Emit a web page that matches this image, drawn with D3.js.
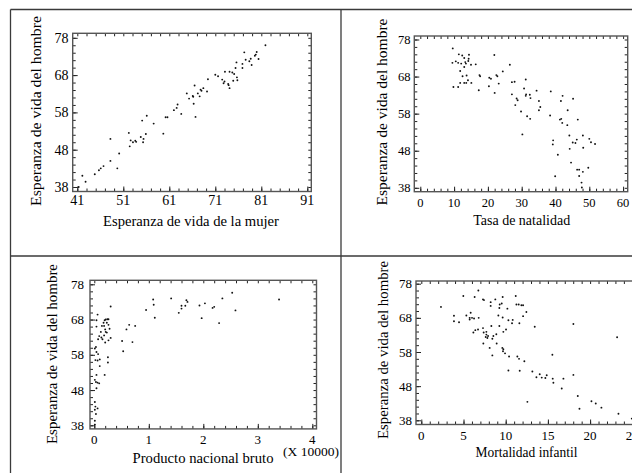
<!DOCTYPE html>
<html><head><meta charset="utf-8">
<script src="https://cdn.jsdelivr.net/npm/d3@7"></script>
<style>
body{margin:0;background:#fff}
svg{display:block}
text{font-family:"Liberation Serif","Times New Roman",serif;fill:#000}
</style>
</head><body>
<svg id="c" width="632" height="473"></svg>
<script>
// ---------- DATA ----------
const yTickLabels = [38, 48, 58, 68, 78];
const yTitle = "Esperanza de vida del hombre";

// Panel 1: female vs male life expectancy
const p1Title = "Esperanza de vida de la mujer";
const p1XTicks = [41, 51, 61, 71, 81, 91];
const p1Female = [81.9,77.3,80.0,79.8,79.6,78.7,77.6,78.4,80.4,75.6,76.9,78.9,75.4,76.9,73.1,74.1,74.7,75.1,71.0,71.6,75.7,72.5,73.0,74.9,75.8,73.8,73.9,74.1,69.4,72.8,66.5,68.4,69.2,67.8,68.0,67.2,64.8,66.1,66.2,65.3,67.6,66.3,62.8,62.6,62.0,63.6,66.7,60.2,60.6,57.6,56.1,55.1,59.7,52.2,55.9,48.2,52.6,53.1,53.6,53.8,54.8,55.4,55.3,52.4,50.1,48.2,49.7,46.7,46.1,45.7,44.8,42.1,42.8,41.3];
const p1Male   = [76.0,74.1,74.2,73.5,73.2,72.4,72.1,71.7,72.3,71.4,71.0,70.7,69.9,69.9,68.9,68.9,68.7,68.3,68.1,67.7,67.4,66.8,66.3,66.5,66.6,65.6,65.3,64.5,66.9,65.8,65.2,64.5,63.6,64.1,63.8,63.1,63.1,62.4,62.2,61.7,62.3,60.3,60.1,59.2,58.6,57.6,56.8,56.7,56.7,55.0,57.1,55.8,52.3,52.5,52.2,50.9,50.5,50.0,50.4,50.1,51.4,50.9,50.0,48.9,47.0,45.0,43.0,43.6,43.0,42.5,41.4,41.0,39.4,38.0];

// Panel 2: birth rate vs male life expectancy
const p2Title = "Tasa de natalidad";
const p2XTicks = [0, 10, 20, 30, 40, 50, 60];
const p2Birth = [9.6,9.5,10.5,11.4,12.4,13.0,14.4,14.3,14.2,11.2,12.1,13.3,13.5,16.4,15.0,13.0,11.8,12.5,13.7,9.8,11.2,11.8,13.0,13.6,14.1,15.1,17.5,17.7,17.3,20.4,20.9,21.9,22.0,20.3,22.5,22.8,23.2,24.4,26.5,27.1,27.9,27.1,28.5,28.1,28.8,29.8,30.7,31.2,31.3,31.2,32.4,32.6,31.6,32.5,30.2,34.4,35.1,35.5,35.1,38.6,38.4,42.1,41.6,45.2,43.6,41.7,41.3,42.0,43.5,46.6,39.3,39.2,44.1,45.1,45.9,46.3,48.1,50.0,50.5,51.7,48.2,44.2,40.7,44.6,46.4,47.0,48.1,49.7,47.0,39.9,47.7,47.8];
const p2Male  = [75.6,71.7,72.1,74.0,73.7,73.0,73.9,72.8,72.2,71.7,71.5,71.9,71.5,71.3,71.2,70.6,69.5,68.1,68.3,65.2,65.2,66.3,66.3,66.3,67.0,66.3,68.4,68.1,64.3,67.7,67.4,73.8,63.6,65.4,68.4,68.1,66.1,69.4,71.2,66.5,66.6,63.2,62.1,60.3,61.6,58.6,64.8,67.2,63.2,62.8,63.1,62.2,57.3,56.6,52.4,64.2,61.4,59.8,58.9,64.0,57.5,62.8,61.4,62.0,58.9,56.6,56.4,55.5,54.9,56.4,50.8,49.7,52.1,50.2,50.1,51.0,52.1,51.2,50.3,49.8,48.8,48.5,46.9,44.8,42.9,42.9,42.3,43.4,41.2,41.1,39.4,38.1];

// Panel 3: GNP (x 10000) vs male life expectancy
const p3Title = "Producto nacional bruto";
const p3Mult = "(X 10000)";
const p3XTicks = [0, 1, 2, 3, 4];
const p3Gnp  = [2.53,2.35,2.59,3.39,1.69,1.71,1.41,1.08,1.09,0.95,1.11,1.60,1.60,1.67,1.55,1.93,2.03,2.17,2.20,1.97,2.29,0.30,0.06,0.04,0.04,0.17,0.19,0.21,0.24,0.26,0.23,0.26,0.14,0.18,0.28,0.21,0.23,0.12,0.09,0.13,0.07,0.15,0.20,0.26,0.30,0.59,0.64,0.75,0.51,0.70,0.53,0.03,0.01,0.04,0.07,0.02,0.06,0.10,0.25,0.25,0.10,0.19,0.04,0.01,0.03,0.06,0.09,0.04,0.01,0.02,0.06,0.01,0.03,0.01,0.01,0.20,0.18];
const p3Male = [75.6,74.0,70.6,73.7,73.5,73.0,74.0,73.7,72.2,70.7,68.5,71.9,71.1,71.9,69.9,72.0,72.6,71.3,71.6,68.4,67.0,71.7,69.4,67.8,66.0,67.1,67.8,68.0,68.1,68.1,67.1,66.5,66.2,66.2,65.4,64.5,64.3,64.5,63.3,62.9,62.4,62.4,61.5,62.1,62.8,65.2,66.5,66.2,61.9,61.6,59.0,60.2,59.8,58.8,58.2,56.5,56.4,56.7,57.3,55.8,54.8,52.3,52.3,50.9,50.3,50.1,49.9,48.5,44.6,43.3,42.8,42.4,41.2,39.3,38.2,65.2,63.5];

// Panel 4: infant mortality vs male life expectancy
const p4Title = "Mortalidad infantil";
const p4XTicks = [0, 5, 10, 15, 20, 25, 30];
const p4Mort = [2.33,3.87,3.87,4.47,4.98,6.32,6.76,5.34,5.85,5.73,6.01,5.73,6.25,6.80,6.17,6.40,6.72,7.31,7.43,7.31,7.39,7.71,7.71,7.91,7.63,7.83,7.35,8.10,8.42,8.22,8.22,8.77,8.30,8.54,8.42,8.89,9.29,9.25,9.53,9.64,9.13,9.25,9.64,9.72,9.60,9.72,9.68,9.92,8.93,10.04,10.20,10.40,10.32,10.32,10.83,10.75,11.19,11.27,11.54,11.86,12.06,11.62,12.06,12.45,11.38,11.58,12.21,11.66,13.16,13.44,12.57,13.64,14.03,14.27,14.70,14.86,15.53,15.57,15.65,16.84,16.64,18.02,18.02,18.54,18.74,20.16,20.67,21.34,23.20,23.36,24.94];
const p4Male = [71.2,68.6,67.0,66.7,74.4,74.1,76.0,68.7,69.5,68.0,68.0,67.5,67.8,68.0,63.7,64.4,64.6,73.4,73.2,65.0,63.7,63.9,63.1,62.7,62.4,62.1,60.5,59.2,57.0,72.6,71.5,73.4,65.6,62.7,61.9,63.2,71.9,70.9,72.2,74.1,68.7,65.6,68.1,63.9,59.2,58.8,58.2,57.6,60.5,64.6,70.7,56.7,52.6,67.3,67.4,66.4,74.4,71.9,71.9,71.7,71.7,66.4,68.5,69.7,56.7,56.0,55.3,52.5,52.3,65.4,43.4,50.6,51.5,50.5,50.4,51.2,57.2,50.2,49.0,50.2,47.3,51.3,66.2,45.1,41.4,43.6,42.9,41.7,62.3,39.9,38.5];

// ---------- DRAW ----------
const svg = d3.select("#c");

// table grid lines
const grid = svg.append("g").attr("stroke", "#3a3a3a").attr("stroke-width", 1.3);
grid.append("line").attr("x1", 10.5).attr("x2", 632).attr("y1", 9.5).attr("y2", 9.5);
grid.append("line").attr("x1", 10.5).attr("x2", 10.5).attr("y1", 9.5).attr("y2", 473);
grid.append("line").attr("x1", 341).attr("x2", 341).attr("y1", 9.5).attr("y2", 473);
grid.append("line").attr("x1", 10.5).attr("x2", 632).attr("y1", 256).attr("y2", 256);

function panel(o) {
  const g = svg.append("g");
  const x = d3.scaleLinear().domain(o.xDomain).range(o.xRange);
  const y = d3.scaleLinear().domain([38, 78]).range(o.yRange);
  const f = o.frame; // [x0, y0, x1, y1]

  // inward ticks on all four sides
  const tickStyle = sel => { sel.select(".domain").remove(); sel.selectAll("line").attr("stroke", "#222").attr("stroke-width", 1); sel.selectAll("text").remove(); };
  const minorX = d3.range(o.xDomain[0], o.xDomain[1] + 1e-9, o.xMinor);
  const minorY = d3.range(38, 78 + 1e-9, 2);
  g.append("g").attr("transform", `translate(0,${f[3]})`).call(d3.axisBottom(x).tickValues(minorX).tickSize(-3)).call(tickStyle);
  g.append("g").attr("transform", `translate(0,${f[1]})`).call(d3.axisTop(x).tickValues(minorX).tickSize(-3)).call(tickStyle);
  g.append("g").attr("transform", `translate(0,${f[3]})`).call(d3.axisBottom(x).tickValues(o.xTicks).tickSize(-5)).call(tickStyle);
  g.append("g").attr("transform", `translate(${f[0]},0)`).call(d3.axisLeft(y).tickValues(minorY).tickSize(-3)).call(tickStyle);
  g.append("g").attr("transform", `translate(${f[2]},0)`).call(d3.axisRight(y).tickValues(minorY).tickSize(-3)).call(tickStyle);
  g.append("g").attr("transform", `translate(${f[0]},0)`).call(d3.axisLeft(y).tickValues(yTickLabels).tickSize(-5)).call(tickStyle);

  // frame
  g.append("rect").attr("x", f[0]).attr("y", f[1]).attr("width", f[2] - f[0]).attr("height", f[3] - f[1])
    .attr("fill", "none").attr("stroke", "#555").attr("stroke-width", 1.4);

  // tick labels
  g.selectAll(null).data(yTickLabels).join("text")
    .attr("x", o.yLabelX).attr("y", d => y(d)).attr("dy", "0.35em")
    .attr("text-anchor", "end").style("font-size", o.tickFont + "px").text(d => d);
  g.selectAll(null).data(o.xTicks).join("text")
    .attr("x", d => x(d)).attr("y", o.xLabelY)
    .attr("text-anchor", "middle").style("font-size", o.tickFont + "px").text(d => d);

  // axis titles
  g.append("text").attr("x", o.xTitle[0]).attr("y", o.xTitle[1]).attr("text-anchor", "middle")
    .attr("textLength", o.xTitle[2]).attr("lengthAdjust", "spacingAndGlyphs")
    .style("font-size", "14.5px").text(o.title);
  g.append("text").attr("transform", `translate(${o.yTitle[0]},${o.yTitle[1]}) rotate(-90)`)
    .attr("text-anchor", "middle").attr("dominant-baseline", "central")
    .attr("textLength", o.yTitle[2]).attr("lengthAdjust", "spacingAndGlyphs")
    .style("font-size", "15px").text(yTitle);

  // points
  g.append("g").selectAll("circle").data(o.xs.map((v, i) => [v, o.ys[i]])).join("circle")
    .attr("cx", d => x(d[0])).attr("cy", d => y(d[1])).attr("r", 0.95).attr("fill", "#111");
  return {g, x, y};
}

panel({
  xDomain: [41, 91], xRange: [77.3, 307.3], yRange: [187, 37.8], frame: [72.7, 33.3, 311.3, 191.5],
  xMinor: 2, xTicks: p1XTicks, tickFont: 14, yLabelX: 68.5, xLabelY: 205,
  title: p1Title, xTitle: [191, 226, 176], yTitle: [36, 111, 190], xs: p1Female, ys: p1Male
});
panel({
  xDomain: [0, 60], xRange: [420.3, 623.1], yRange: [187.8, 39.5], frame: [414.3, 36, 627.7, 191.7],
  xMinor: 2, xTicks: p2XTicks, tickFont: 12.5, yLabelX: 410.5, xLabelY: 206.5,
  title: p2Title, xTitle: [521.7, 225, 97], yTitle: [381.7, 112, 187], xs: p2Birth, ys: p2Male
});
const P3 = panel({
  xDomain: [0, 4], xRange: [94.3, 312.3], yRange: [425.3, 284.3], frame: [90, 280.3, 316.5, 428.9],
  xMinor: 0.2, xTicks: p3XTicks, tickFont: 13, yLabelX: 84, xLabelY: 443.5,
  title: p3Title, xTitle: [203, 463, 141], yTitle: [51.7, 354, 180], xs: p3Gnp, ys: p3Male
});
P3.g.append("text").attr("x", 283).attr("y", 456).attr("textLength", 56).attr("lengthAdjust", "spacingAndGlyphs")
  .style("font-size", "12px").text(p3Mult);
panel({
  xDomain: [0, 30], xRange: [421.3, 674.5], yRange: [420.3, 283.7], frame: [416, 281, 680, 424.5],
  xMinor: 1, xTicks: p4XTicks, tickFont: 13, yLabelX: 412, xLabelY: 440,
  title: p4Title, xTitle: [526.5, 457, 102], yTitle: [382.7, 350, 178], xs: p4Mort, ys: p4Male
});
</script>
</body></html>
